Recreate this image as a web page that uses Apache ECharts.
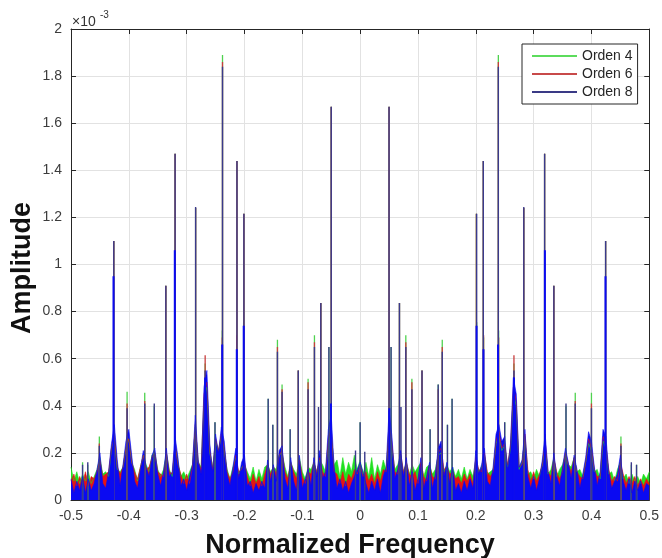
<!DOCTYPE html>
<html>
<head>
<meta charset="utf-8">
<script src="https://cdn.jsdelivr.net/npm/echarts@6/dist/echarts.min.js"></script>
<style>
  html, body { margin: 0; padding: 0; background: #fff; }
  #chart { width: 662px; height: 558px; }
</style>
</head>
<body>
<div id="chart"></div>
<script>
// Spectrum magnitude of three filter orders; amplitudes are in units of 1e-3.
const F_START = -0.5;   // first bin of the noise-floor grid (normalized frequency)
const F_STEP = 0.005;   // bin spacing of the noise-floor grid

const seriesNames = ['Orden 4', 'Orden 6', 'Orden 8'];
const xTicks = [-0.5, -0.4, -0.3, -0.2, -0.1, 0, 0.1, 0.2, 0.3, 0.4, 0.5];
const yTicks = [0, 0.2, 0.4, 0.6, 0.8, 1, 1.2, 1.4, 1.6, 1.8, 2];

// Noise floor, one value per bin from -0.5 to 0.5 (201 bins)
const floorOrden4 = [
  0.14,0.08,0.12,0.07,0.11,0.08,0.12,0.07,0.10,0.13,
  0.18,0.11,0.12,0.10,0.22,0.26,0.13,0.12,0.14,0.22,
  0.26,0.16,0.13,0.08,0.14,0.19,0.15,0.12,0.19,0.20,
  0.13,0.10,0.13,0.20,0.13,0.10,0.23,0.16,0.10,0.12,
  0.09,0.12,0.15,0.31,0.16,0.14,0.43,0.48,0.20,0.14,
  0.25,0.21,0.27,0.21,0.13,0.09,0.14,0.18,0.11,0.14,
  0.15,0.12,0.09,0.14,0.08,0.13,0.09,0.14,0.15,0.12,
  0.14,0.13,0.19,0.20,0.14,0.10,0.16,0.13,0.11,0.18,
  0.12,0.09,0.14,0.13,0.16,0.12,0.17,0.15,0.12,0.24,
  0.28,0.15,0.17,0.10,0.18,0.11,0.16,0.12,0.19,0.13,
  0.17,0.11,0.16,0.10,0.18,0.09,0.15,0.11,0.17,0.13,
  0.30,0.22,0.13,0.15,0.19,0.12,0.16,0.11,0.15,0.12,
  0.14,0.16,0.10,0.14,0.15,0.11,0.13,0.19,0.20,0.12,
  0.15,0.12,0.14,0.10,0.13,0.09,0.14,0.09,0.13,0.10,
  0.17,0.12,0.14,0.19,0.11,0.12,0.13,0.24,0.27,0.21,
  0.23,0.14,0.22,0.45,0.40,0.13,0.16,0.27,0.11,0.12,
  0.09,0.13,0.10,0.15,0.23,0.11,0.13,0.18,0.10,0.13,
  0.15,0.19,0.15,0.14,0.18,0.12,0.13,0.10,0.16,0.24,
  0.21,0.12,0.13,0.09,0.25,0.22,0.11,0.12,0.08,0.13,
  0.16,0.09,0.11,0.07,0.11,0.08,0.10,0.07,0.11,0.09,
  0.12
];
const floorOrden6 = [
  0.08,0.11,0.06,0.10,0.07,0.12,0.06,0.10,0.09,0.12,
  0.17,0.10,0.11,0.12,0.22,0.27,0.14,0.11,0.14,0.22,
  0.26,0.16,0.12,0.09,0.14,0.19,0.13,0.14,0.18,0.20,
  0.12,0.11,0.10,0.20,0.12,0.11,0.24,0.15,0.11,0.07,
  0.11,0.07,0.14,0.32,0.16,0.13,0.45,0.50,0.21,0.13,
  0.26,0.21,0.28,0.22,0.12,0.09,0.12,0.19,0.12,0.13,
  0.16,0.10,0.06,0.11,0.07,0.10,0.06,0.11,0.15,0.11,
  0.14,0.11,0.19,0.21,0.12,0.09,0.16,0.12,0.09,0.17,
  0.10,0.07,0.12,0.11,0.16,0.12,0.18,0.12,0.10,0.26,
  0.30,0.12,0.11,0.07,0.12,0.06,0.11,0.09,0.13,0.11,
  0.15,0.10,0.12,0.08,0.11,0.07,0.12,0.08,0.13,0.12,
  0.32,0.24,0.12,0.11,0.20,0.12,0.16,0.11,0.10,0.12,
  0.07,0.16,0.10,0.08,0.15,0.10,0.09,0.20,0.22,0.13,
  0.14,0.11,0.12,0.09,0.10,0.07,0.11,0.08,0.11,0.07,
  0.18,0.13,0.12,0.20,0.12,0.10,0.12,0.25,0.29,0.22,
  0.24,0.15,0.23,0.48,0.42,0.14,0.15,0.28,0.13,0.08,
  0.12,0.08,0.11,0.15,0.25,0.12,0.10,0.18,0.12,0.09,
  0.12,0.20,0.15,0.12,0.18,0.12,0.10,0.09,0.16,0.26,
  0.22,0.13,0.10,0.10,0.27,0.23,0.13,0.08,0.10,0.08,
  0.16,0.11,0.07,0.10,0.07,0.10,0.06,0.09,0.06,0.09,
  0.07
];
const floorOrden8 = [
  0.09,0.03,0.08,0.04,0.10,0.03,0.09,0.04,0.07,0.13,
  0.20,0.07,0.05,0.12,0.24,0.32,0.17,0.06,0.15,0.25,
  0.30,0.19,0.08,0.05,0.13,0.21,0.14,0.10,0.19,0.22,
  0.11,0.06,0.12,0.22,0.10,0.12,0.27,0.18,0.06,0.09,
  0.04,0.10,0.15,0.36,0.17,0.11,0.48,0.55,0.24,0.12,
  0.28,0.20,0.31,0.25,0.11,0.06,0.14,0.22,0.09,0.16,
  0.19,0.06,0.08,0.03,0.07,0.04,0.08,0.05,0.17,0.08,
  0.15,0.08,0.21,0.23,0.09,0.05,0.18,0.08,0.04,0.19,
  0.05,0.09,0.13,0.06,0.18,0.10,0.21,0.09,0.12,0.30,
  0.36,0.14,0.05,0.09,0.04,0.08,0.03,0.07,0.10,0.13,
  0.16,0.12,0.07,0.03,0.08,0.04,0.09,0.03,0.10,0.14,
  0.38,0.27,0.09,0.13,0.21,0.10,0.18,0.06,0.12,0.04,
  0.09,0.18,0.05,0.10,0.16,0.05,0.11,0.22,0.25,0.10,
  0.16,0.07,0.14,0.04,0.07,0.03,0.08,0.04,0.09,0.05,
  0.21,0.11,0.15,0.22,0.08,0.06,0.14,0.28,0.32,0.25,
  0.27,0.13,0.24,0.52,0.45,0.14,0.17,0.30,0.10,0.05,
  0.10,0.04,0.09,0.17,0.28,0.12,0.07,0.20,0.10,0.06,
  0.14,0.22,0.16,0.09,0.19,0.13,0.05,0.11,0.18,0.29,
  0.25,0.14,0.06,0.12,0.30,0.27,0.12,0.05,0.08,0.11,
  0.19,0.08,0.04,0.09,0.03,0.08,0.04,0.08,0.03,0.07,
  0.06
];

// Spectral lines: [normalized frequency, peak amplitude]
const peaksOrden4 = [
  [-0.480,0.16],[-0.471,0.15],[-0.451,0.27],[-0.426,1.10],[-0.403,0.46],[-0.3725,0.455],
  [-0.356,0.40],[-0.336,0.91],[-0.320,1.47],[-0.2845,1.24],[-0.268,0.58],[-0.251,0.33],
  [-0.2385,0.72],[-0.238,1.89],[-0.2135,0.69],[-0.213,1.44],[-0.2015,0.755],[-0.201,1.215],
  [-0.159,0.43],[-0.151,0.32],[-0.143,0.68],[-0.135,0.49],[-0.121,0.30],[-0.107,0.55],
  [-0.090,0.515],[-0.079,0.70],[-0.068,0.837],[-0.054,0.65],[-0.050,1.67],[0.000,0.33],
  [0.050,1.67],[0.0535,0.65],[0.068,0.837],[0.079,0.70],[0.0895,0.515],[0.107,0.55],
  [0.121,0.30],[0.135,0.49],[0.142,0.68],[0.151,0.32],[0.159,0.43],[0.201,1.215],
  [0.2015,0.755],[0.213,1.44],[0.2135,0.69],[0.239,1.89],[0.2395,0.72],[0.250,0.33],
  [0.266,0.58],[0.283,1.24],[0.319,1.47],[0.335,0.91],[0.356,0.40],[0.372,0.455],
  [0.400,0.455],[0.4245,1.10],[0.451,0.27],[0.469,0.15],[0.478,0.15]
];
const peaksOrden6 = [
  [-0.451,0.24],[-0.426,1.10],[-0.403,0.41],[-0.3725,0.42],[-0.336,0.91],[-0.320,1.47],
  [-0.2845,1.24],[-0.268,0.615],[-0.2385,0.69],[-0.238,1.86],[-0.2135,0.70],[-0.213,1.44],
  [-0.201,1.215],[-0.143,0.65],[-0.135,0.47],[-0.107,0.55],[-0.090,0.50],[-0.079,0.67],
  [-0.068,0.837],[-0.050,1.67],[0.050,1.67],[0.068,0.837],[0.079,0.67],[0.0895,0.50],
  [0.107,0.55],[0.135,0.47],[0.142,0.65],[0.201,1.215],[0.213,1.44],[0.2135,0.70],
  [0.239,1.86],[0.2395,0.69],[0.266,0.615],[0.283,1.24],[0.319,1.47],[0.335,0.91],
  [0.372,0.42],[0.400,0.41],[0.4245,1.10],[0.451,0.24]
];
const peaksOrden8 = [
  [-0.480,0.15],[-0.471,0.16],[-0.451,0.23],[-0.426,1.10],[-0.403,0.39],[-0.3725,0.41],
  [-0.356,0.41],[-0.336,0.91],[-0.320,1.47],[-0.2845,1.244],[-0.268,0.55],[-0.251,0.33],
  [-0.238,1.84],[-0.213,1.44],[-0.201,1.215],[-0.159,0.43],[-0.151,0.32],[-0.143,0.63],
  [-0.135,0.46],[-0.121,0.30],[-0.107,0.55],[-0.090,0.47],[-0.079,0.65],[-0.072,0.395],
  [-0.068,0.837],[-0.054,0.65],[-0.050,1.67],[-0.008,0.21],[0.000,0.33],[0.008,0.205],
  [0.050,1.67],[0.0535,0.65],[0.068,0.837],[0.0707,0.395],[0.079,0.65],[0.0895,0.47],
  [0.107,0.55],[0.121,0.30],[0.135,0.49],[0.142,0.63],[0.151,0.32],[0.159,0.43],
  [0.2015,1.215],[0.213,1.44],[0.239,1.84],[0.250,0.33],[0.266,0.55],[0.283,1.244],
  [0.319,1.47],[0.335,0.91],[0.356,0.41],[0.372,0.41],[0.400,0.39],[0.4245,1.10],
  [0.451,0.23],[0.469,0.16],[0.478,0.15]
];
// Neighbouring bins that form the wider lower part of the strongest Orden 8 lines
const shouldersOrden8 = [
  [-0.4265,0.95],[-0.3205,1.06],[-0.268,0.52],[-0.2385,0.66],[-0.2133,0.64],[-0.2013,0.74],
  [-0.0505,0.41],[0.0505,0.39],[0.2013,0.74],[0.2133,0.64],[0.2385,0.66],[0.266,0.52],
  [0.3195,1.06],[0.4243,0.95]
];

const COLORS = {
  o4: '#22e022', o4Line: '#4fd24f',
  o6: '#e41414', o6Line: '#c83c3c',
  o8: '#0a0af2', o8Line: '#3a3a8c',
  legend4: '#5cdc5c', legend6: '#c84a4a', legend8: '#3a3a86'
};
const FONT = '"Liberation Sans", Arial, Helvetica, sans-serif';

function floorData(values) {
  return values.map((v, i) => [+(F_START + i * F_STEP).toFixed(3), v]);
}
// Each spectral line is a vertical stroke from the axis to its peak, broken from the next one
function lineData(peaks) {
  const out = [];
  peaks.forEach(([f, a]) => { out.push([f, 0], [f, a], [f, '-']); });
  return out;
}
function floorSeries(name, values, color) {
  return {
    name, type: 'line', data: floorData(values), color,
    symbol: 'none', silent: true, animation: false,
    lineStyle: { width: 0.6, color },
    areaStyle: { color, opacity: 1 }
  };
}
function peakSeries(name, peaks, color, width) {
  return {
    name, type: 'line', data: lineData(peaks), color,
    symbol: 'none', silent: true, animation: false, connectNulls: false,
    lineStyle: { width, color }
  };
}
const tickFmt = v => String(Math.round(v * 10) / 10);

const axisLineStyle = { color: '#262626', width: 1 };

const option = {
  backgroundColor: '#fff',
  animation: false,
  grid: { left: 71, right: 10, top: 29, bottom: 58, containLabel: false },
  xAxis: [
    {
      type: 'value', min: xTicks[0], max: xTicks[xTicks.length - 1], interval: 0.1,
      position: 'bottom',
      axisLine: { show: true, onZero: false, lineStyle: axisLineStyle },
      axisTick: { show: true, inside: true, length: 5, lineStyle: axisLineStyle },
      axisLabel: { formatter: tickFmt, color: '#3c3c3c', fontSize: 14, fontFamily: FONT, margin: 9 },
      splitLine: { show: true, lineStyle: { color: '#e2e2e2', width: 1 } }
    },
    {
      type: 'value', min: xTicks[0], max: xTicks[xTicks.length - 1], interval: 0.1,
      position: 'top',
      axisLine: { show: true, onZero: false, lineStyle: axisLineStyle },
      axisTick: { show: true, inside: true, length: 5, lineStyle: axisLineStyle },
      axisLabel: { show: false },
      splitLine: { show: false }
    }
  ],
  yAxis: [
    {
      type: 'value', min: yTicks[0], max: yTicks[yTicks.length - 1], interval: 0.2,
      position: 'left',
      axisLine: { show: true, onZero: false, lineStyle: axisLineStyle },
      axisTick: { show: true, inside: true, length: 5, lineStyle: axisLineStyle },
      axisLabel: { formatter: tickFmt, color: '#3c3c3c', fontSize: 14, fontFamily: FONT, margin: 9 },
      splitLine: { show: true, lineStyle: { color: '#e2e2e2', width: 1 } }
    },
    {
      type: 'value', min: yTicks[0], max: yTicks[yTicks.length - 1], interval: 0.2,
      position: 'right',
      axisLine: { show: true, onZero: false, lineStyle: axisLineStyle },
      axisTick: { show: true, inside: true, length: 5, lineStyle: axisLineStyle },
      axisLabel: { show: false },
      splitLine: { show: false }
    }
  ],
  legend: {
    orient: 'vertical', left: 522, top: 44,
    padding: [3, 5, 3, 10],
    itemWidth: 45, itemHeight: 2, itemGap: 0, icon: 'rect',
    selectedMode: false,
    backgroundColor: '#fff', borderColor: '#262626', borderWidth: 1,
    textStyle: { fontSize: 14, lineHeight: 18, color: '#262626', fontFamily: FONT },
    data: [
      { name: seriesNames[0], itemStyle: { color: COLORS.legend4, borderWidth: 0 } },
      { name: seriesNames[1], itemStyle: { color: COLORS.legend6, borderWidth: 0 } },
      { name: seriesNames[2], itemStyle: { color: COLORS.legend8, borderWidth: 0 } }
    ]
  },
  graphic: [
    { type: 'text', x: 72, y: 22, style: { text: '\u00d710', fill: '#333', font: '14px ' + FONT, align: 'left', verticalAlign: 'middle' } },
    { type: 'text', x: 100, y: 15, style: { text: '-3', fill: '#333', font: '10px ' + FONT, align: 'left', verticalAlign: 'middle' } },
    { type: 'text', x: 23, y: 268, rotation: Math.PI / 2,
      style: { text: 'Amplitude', fill: '#111', font: 'bold 27px ' + FONT, align: 'center', verticalAlign: 'middle' } },
    { type: 'text', x: 350, y: 546,
      style: { text: 'Normalized Frequency', fill: '#111', font: 'bold 27px ' + FONT, align: 'center', verticalAlign: 'middle' } }
  ],
  series: [
    floorSeries(seriesNames[0], floorOrden4, COLORS.o4),
    peakSeries(seriesNames[0], peaksOrden4, COLORS.o4Line, 1.3),
    floorSeries(seriesNames[1], floorOrden6, COLORS.o6),
    peakSeries(seriesNames[1], peaksOrden6, COLORS.o6Line, 1.3),
    peakSeries(seriesNames[2], peaksOrden8, COLORS.o8Line, 1.4),
    floorSeries(seriesNames[2], floorOrden8, COLORS.o8),
    peakSeries(seriesNames[2], shouldersOrden8, COLORS.o8, 2)
  ]
};

const chart = echarts.init(document.getElementById('chart'), null, { renderer: 'canvas' });
chart.setOption(option);
</script>
</body>
</html>
